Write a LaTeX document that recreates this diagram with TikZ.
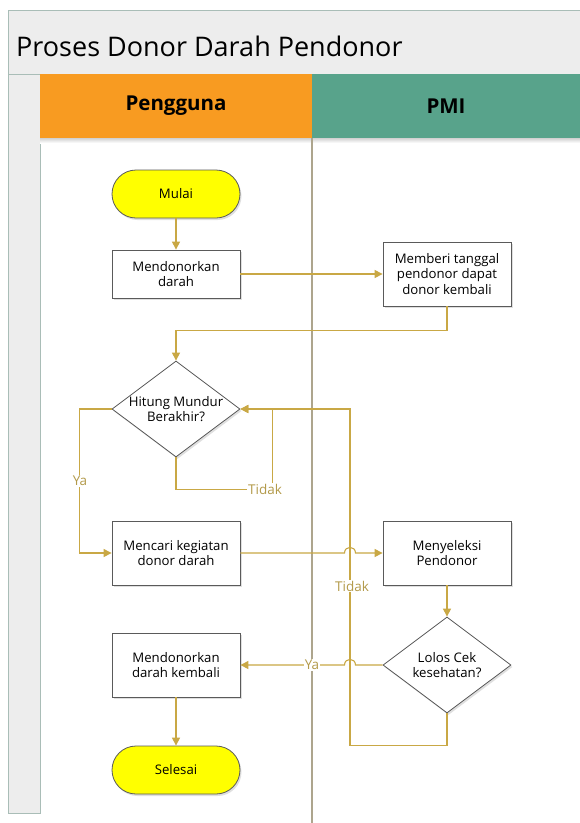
\documentclass[tikz,border=0pt]{standalone}
\usepackage{fontspec}
\setmainfont{Open Sans}
\usetikzlibrary{arrows.meta,shapes.geometric,shadows}
\definecolor{gold}{HTML}{C9A845}
\definecolor{goldtxt}{HTML}{B39A4A}
\definecolor{bandgray}{HTML}{EDEDED}
\definecolor{framec}{HTML}{A9BDB7}
\definecolor{orangeh}{HTML}{F89B21}
\definecolor{tealh}{HTML}{58A38B}
\definecolor{divc}{HTML}{ADA58D}
\definecolor{boxline}{HTML}{5A5A5A}
\definecolor{termy}{HTML}{FFFF00}
\tikzset{
  shad/.style={drop shadow={opacity=0.25,shadow xshift=1.5pt,shadow yshift=-2pt}},
  procbox/.style={draw=boxline,line width=0.8pt,fill=white,minimum width=128pt,minimum height=48pt,align=center,font=\fontsize{13.2}{15.5}\selectfont,shad},
  termbox/.style={procbox,fill=termy,rounded corners=24pt},
  decbox/.style={draw=boxline,line width=0.8pt,fill=white,shape=diamond,minimum width=128pt,minimum height=96pt,inner sep=0pt,shad},
  dectext/.style={align=center,font=\fontsize{13.2}{15.5}\selectfont},
  flow/.style={draw=gold,line width=1.1pt,-{Triangle[width=8pt,length=8pt]}},
  lbl/.style={fill=white,inner sep=1pt,text=goldtxt,font=\fontsize{13.5}{16}\selectfont},
  hdr/.style={font=\fontsize{20.5}{24}\selectfont\bfseries},
}
\begin{document}
\begin{tikzpicture}[x=1pt,y=-1pt]
\useasboundingbox (0,0) rectangle (580,823);
\fill[white] (0,0) rectangle (580,823);
% title band and frame
\filldraw[fill=bandgray,draw=framec,line width=1pt] (8,10) rectangle (600,74);
\node[anchor=base west,inner sep=0pt,font=\fontsize{27}{32}\selectfont] (title) at (16,56) {Proses Donor Darah Pendonor};
\filldraw[fill=bandgray,draw=framec,line width=1pt] (8,74) rectangle (40,813);
% lane headers
\fill[orangeh] (40,74) rectangle (312,138);
\fill[tealh] (312,74) rectangle (600,138);
\shade[top color=black!18,bottom color=white] (40,138) rectangle (600,143);
\node[hdr] (h1) at (176,106) {Pengguna};
\node[hdr] (h2) at (446,106) {PMI};
% lane divider
\draw[divc,line width=1.4pt] (312,138) -- (312,830);

% nodes
\node[termbox] (mulai) at (176,194) {Mulai};
\node[procbox] (md1) at (176,274) {Mendonorkan\\darah};
\node[procbox,minimum height=64pt] (mb) at (447,274) {Memberi tanggal\\pendonor dapat\\donor kembali};
\node[decbox] (hm) at (176,409) {};
\node[dectext] (hmt) at (176,409) {Hitung Mundur\\Berakhir?};
\node[procbox,minimum height=64pt] (mc) at (176,553) {Mencari kegiatan\\donor darah};
\node[procbox,minimum height=64pt] (ms) at (447,553) {Menyeleksi\\Pendonor};
\node[decbox] (lc) at (447,665) {};
\node[dectext] (lct) at (447,665) {Lolos Cek\\kesehatan?};
\node[procbox,minimum height=64pt] (md2) at (176,665) {Mendonorkan\\darah kembali};
\node[termbox] (sel) at (176,770) {Selesai};

\coordinate (j) at (350,409);

% connectors
\draw[flow] (mulai) -- (md1);
\draw[flow] (md1) -- (mb);
\draw[flow] (mb.south) -- ++(0,24) -| (hm.north);
\draw[flow] (hm.south) -- ++(0,32) -| ([xshift=32pt]hm.east) -- (hm.east);
\draw[flow] (hm.west) -- ++(-32,0) |- (mc.west);
\draw[flow] (lc.south) -- ++(0,32) -| (j) -- (hm.east);
\draw[flow] (mc.east) -- (344.5,553) .. controls (344.5,545.5) and (355.5,545.5) .. (355.5,553) -- (ms.west);
\draw[flow] (ms) -- (lc);
\draw[flow] (lc.west) -- (355.5,665) .. controls (355.5,657.5) and (344.5,657.5) .. (344.5,665) -- (md2.east);
\draw[flow] (md2) -- (sel);

% labels
\node[lbl] (l1) at (265,489) {Tidak};
\node[lbl] (l2) at (80,481) {Ya};
\node[lbl] (l3) at (352,586) {Tidak};
\node[lbl] (l4) at (312,665) {Ya};
\end{tikzpicture}
\end{document}
